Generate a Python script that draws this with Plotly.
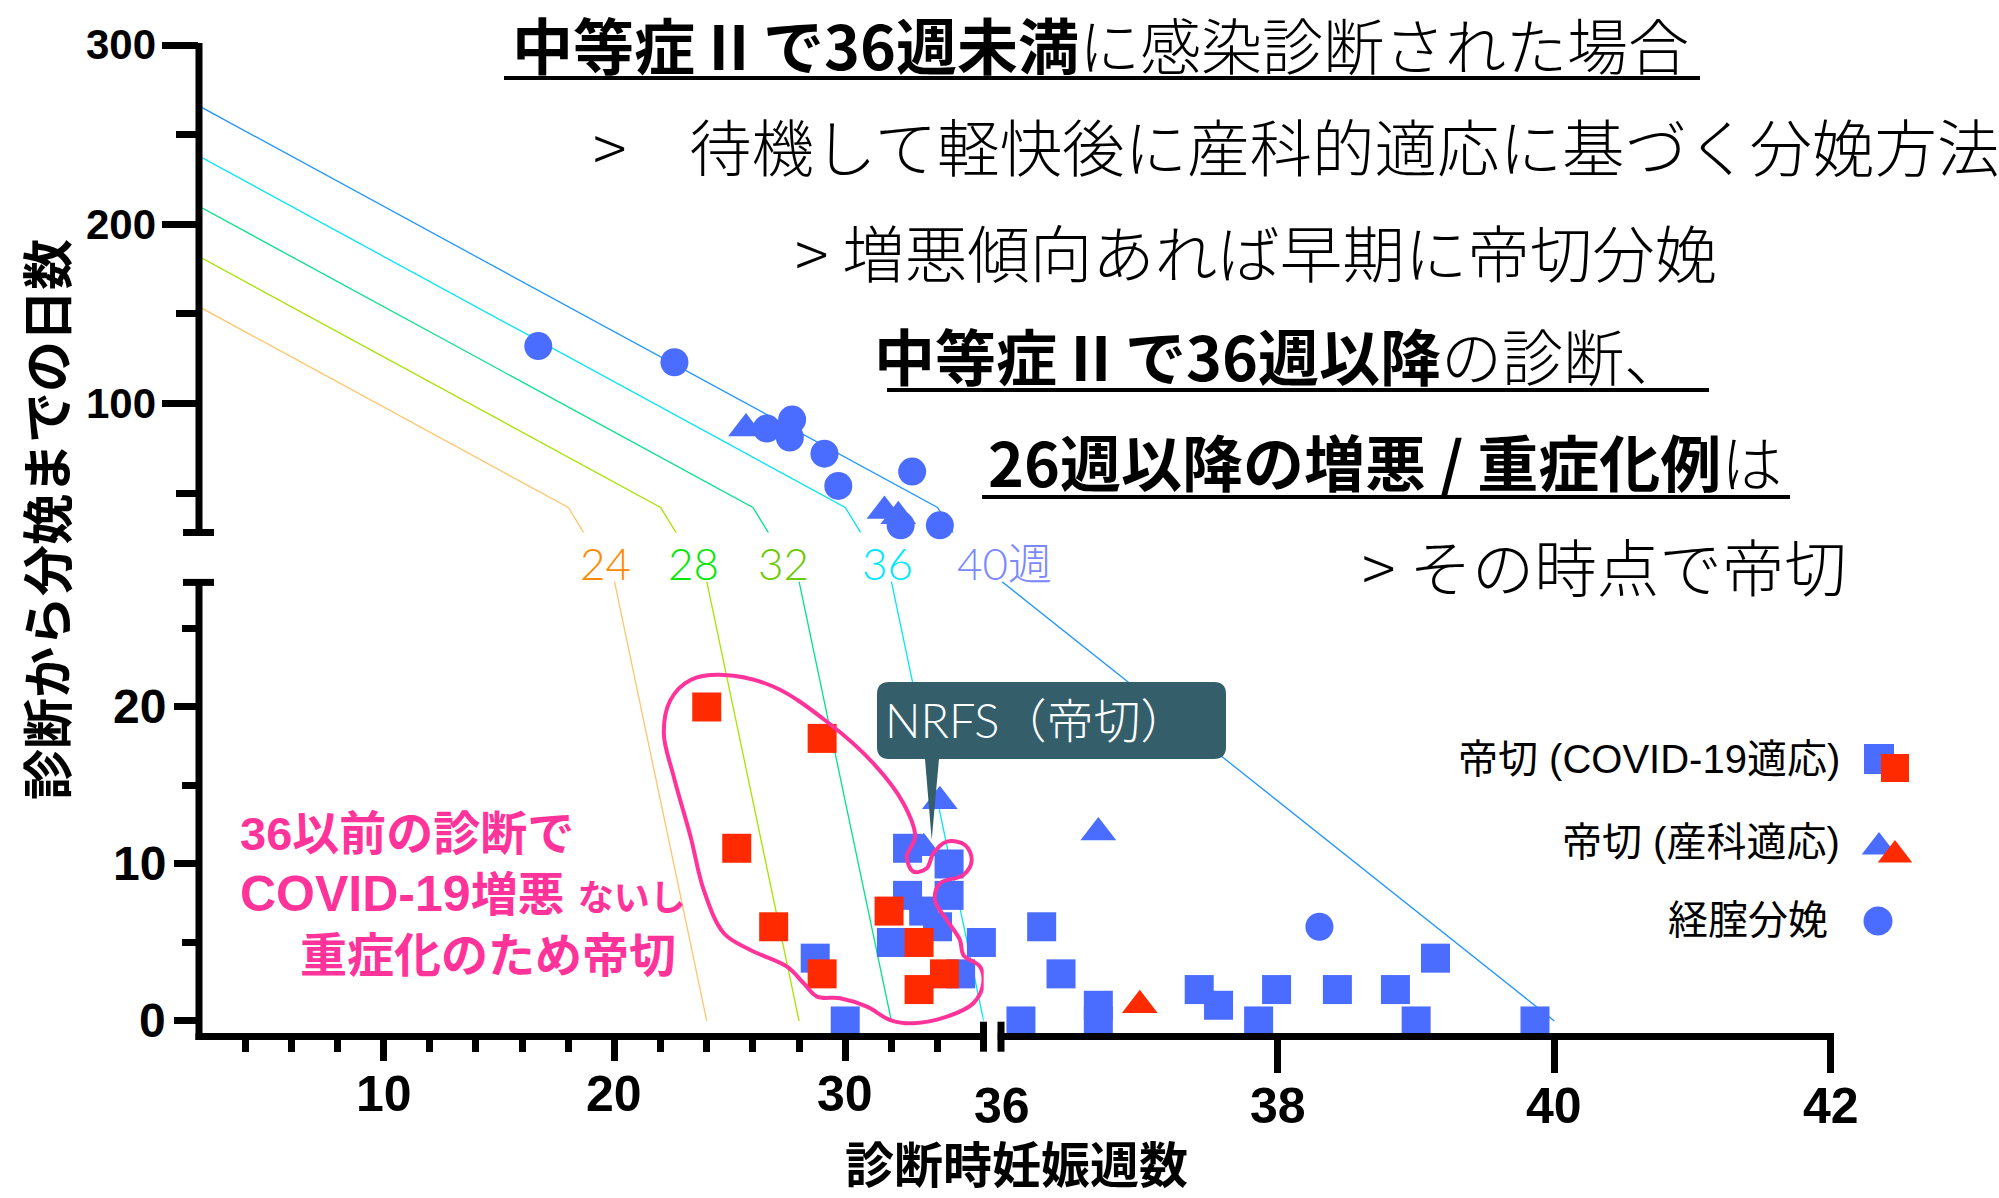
import plotly.graph_objects as go

FIG_W, FIG_H = 1999, 1198


def PX(v):
    return v / FIG_W


def PY(v):
    return 1 - v / FIG_H


# ---------------- data ----------------
guide_labels = ["24", "28", "32", "36", "40週"]
guide_line_colors = ["#FFC56A", "#A6E400", "#00E28A", "#00E6F6", "#2196FF"]
guide_label_colors = ["#FF8A00", "#00EA00", "#6ACB00", "#00E8FF", "#7C88FF"]
guide_upper_x = [[2, 18, 20], [2, 22, 24], [2, 26, 28], [2, 30, 32], [2, 34, 36]]
guide_upper_y = [[154, 42, 0], [182, 42, 0], [210, 42, 0], [238, 42, 0], [266, 42, 0]]
guide_lower_x = [[20, 24], [24, 28], [28, 32], [32, 36], [36, 40]]
guide_lower_y = [[28, 0], [28, 0], [28, 0], [28, 0], [28, 0]]

# vaginal delivery (circle, blue)
vag_x = [16.7, 22.6, 26.6, 27.7, 27.6, 29.1, 29.7, 32.9, 32.4, 34.1, 38.3]
vag_y = [132, 123, 86, 91, 81, 72, 54, 62, 32, 32, 6]
# CS, obstetric indication (triangle)
obs_blue_x = [25.7, 31.7, 32.3, 33.4, 34.1, 36.7]
obs_blue_y = [86, 40, 37, 11, 14, 12]
obs_red_x = [37.0]
obs_red_y = [1]
# CS, COVID-19 indication (square)
cov_blue_x = [28.7, 30.0, 32.7, 34.5, 34.5, 32.7, 33.4, 34.0, 32.0, 35.9, 35.0,
              36.14, 36.29, 36.43, 36.7, 36.7, 37.43, 37.57, 37.86, 37.99, 38.43,
              38.85, 39.0, 39.14, 39.86]
cov_blue_y = [4, 0, 11, 10, 8, 8, 7, 6, 5, 5, 3,
              0, 6, 3, 1, 0, 2, 1, 0, 2, 2,
              2, 0, 4, 0]
cov_red_x = [24.0, 29.0, 25.3, 26.9, 29.0, 31.9, 33.2, 34.3, 33.2]
cov_red_y = [20, 18, 11, 6, 3, 7, 5, 3, 2]

# outline drawn around the early-diagnosis CS cases (weeks, days)
loop_x = [24.74, 26.90, 29.21, 31.22, 32.52, 33.03, 32.67, 32.95, 33.53, 33.82,
          34.40, 35.19, 35.48, 35.12, 34.11, 33.89, 34.40, 34.97, 35.12, 35.84,
          35.98, 35.55, 34.40, 32.95, 31.95, 30.94, 29.78, 28.78, 28.20, 27.48,
          25.89, 24.74, 23.87, 23.30, 22.57, 22.14, 22.43, 23.30, 24.74]
loop_y = [22.04, 21.29, 19.06, 16.41, 13.87, 11.74, 10.46, 9.51, 9.73, 10.68,
          11.42, 11.21, 10.25, 9.30, 8.77, 7.71, 6.43, 5.16, 4.20, 3.46,
          2.40, 1.13, 0.27, -0.15, 0.06, 0.91, 1.45, 1.55, 2.40, 3.46,
          4.52, 5.59, 8.34, 11.74, 15.56, 18.32, 20.45, 21.72, 22.04]

x_left_ticks = [10, 20, 30]
x_left_minor = [4, 6, 8, 12, 14, 16, 18, 22, 24, 26, 28, 32, 34]
x_right_ticks = [38, 40, 42]
x_right_labels = [36, 38, 40, 42]
y_low_ticks = [0, 10, 20]
y_low_minor = [5, 15, 25]
y_up_ticks = [100, 200, 300]
y_up_minor = [50, 150, 250]

legend_texts = ["帝切 (COVID-19適応)", "帝切 (産科適応)", "経腟分娩"]

BLUE = "#4A6CFF"
RED = "#FF2A00"
PINK = "#FF3399"
BOX = "#355E6B"
BREAK = 28  # y value at the axis break
XBREAK = 36

fig = go.Figure()


def add_guides():
    for i in range(len(guide_labels)):
        fig.add_trace(go.Scatter(x=guide_upper_x[i], y=guide_upper_y[i], xaxis="x", yaxis="y2",
                                 mode="lines", line=dict(color=guide_line_colors[i], width=1.3),
                                 hoverinfo="skip"))
        lx = guide_lower_x[i]
        xa = "x2" if min(lx) >= XBREAK else "x"
        fig.add_trace(go.Scatter(x=lx, y=guide_lower_y[i], xaxis=xa, yaxis="y",
                                 mode="lines", line=dict(color=guide_line_colors[i], width=1.3),
                                 hoverinfo="skip"))


def add_points(xs, ys, symbol, color, size):
    groups = [
        ("x", "y2", lambda x, y: y >= BREAK),
        ("x", "y", lambda x, y: y < BREAK and x < XBREAK),
        ("x2", "y", lambda x, y: y < BREAK and x >= XBREAK),
    ]
    for xa, ya, cond in groups:
        gx = [x for x, y in zip(xs, ys) if cond(x, y)]
        gy = [y for x, y in zip(xs, ys) if cond(x, y)]
        if gx:
            fig.add_trace(go.Scatter(x=gx, y=gy, xaxis=xa, yaxis=ya, mode="markers",
                                     cliponaxis=False,
                                     marker=dict(symbol=symbol, color=color, size=size,
                                                 line=dict(width=0))))


add_guides()
add_points(vag_x, vag_y, "circle", BLUE, 28)
add_points(obs_blue_x, obs_blue_y, "triangle-up", BLUE, 31)
add_points(cov_blue_x, cov_blue_y, "square", BLUE, 29)
add_points(cov_red_x, cov_red_y, "square", RED, 29)
add_points(obs_red_x, obs_red_y, "triangle-up", RED, 31)

fig.add_trace(go.Scatter(x=loop_x, y=loop_y, xaxis="x", yaxis="y", mode="lines",
                         line=dict(color=PINK, width=4, shape="spline", smoothing=1.0),
                         hoverinfo="skip"))

# legend glyphs on a pixel overlay
leg_rows = [759, 842, 920]
leg_gx = 1879
fig.add_trace(go.Scatter(x=[leg_gx], y=[leg_rows[0]], xaxis="x3", yaxis="y3", mode="markers",
                         marker=dict(symbol="square", color=BLUE, size=30), cliponaxis=False))
fig.add_trace(go.Scatter(x=[leg_gx + 16], y=[leg_rows[0] + 9], xaxis="x3", yaxis="y3", mode="markers",
                         marker=dict(symbol="square", color=RED, size=28), cliponaxis=False))
fig.add_trace(go.Scatter(x=[leg_gx], y=[leg_rows[1] + 5], xaxis="x3", yaxis="y3", mode="markers",
                         marker=dict(symbol="triangle-up", color=BLUE, size=30), cliponaxis=False))
fig.add_trace(go.Scatter(x=[leg_gx + 16], y=[leg_rows[1] + 13], xaxis="x3", yaxis="y3", mode="markers",
                         marker=dict(symbol="triangle-up", color=RED, size=30), cliponaxis=False))
fig.add_trace(go.Scatter(x=[leg_gx - 1], y=[leg_rows[2] + 1], xaxis="x3", yaxis="y3", mode="markers",
                         marker=dict(symbol="circle", color=BLUE, size=29), cliponaxis=False))

TICKFONT = "Liberation Sans, Arial, sans-serif"
JP = "Noto Sans CJK JP, sans-serif"
LATIN_JP = "Liberation Sans, Noto Sans CJK JP, sans-serif"

# axis geometry (pixels)
X_L0, X_L1 = 199.0, 983.7
X_R0, X_R1 = 1001.6, 1830.7
Y_LOW_BOT, Y_LOW_TOP = 1036.5, 581.4
Y_UP_BOT, Y_UP_TOP = 532.5, 45.0
AX_W = 7

common_ax = dict(showline=False, showgrid=False, zeroline=False, automargin=False,
                 showticklabels=False, ticks="outside", tickwidth=AX_W, tickcolor="black",
                 tickmode="array", fixedrange=True)

fig.update_layout(
    template="none",
    width=FIG_W, height=FIG_H, autosize=False,
    margin=dict(l=0, r=0, t=0, b=0, pad=0),
    paper_bgcolor="white", plot_bgcolor="rgba(0,0,0,0)",
    showlegend=False,
    xaxis=dict(domain=[PX(X_L0), PX(X_L1)], range=[2, 36], anchor="y",
               tickvals=x_left_ticks, ticklen=23,
               minor=dict(tickmode="array", tickvals=x_left_minor, ticks="outside",
                          ticklen=14, tickwidth=AX_W, tickcolor="black", showgrid=False),
               **common_ax),
    xaxis2=dict(domain=[PX(X_R0), PX(X_R1)], range=[36, 42], anchor="y",
                tickvals=x_right_ticks, ticklen=35, **common_ax),
    yaxis=dict(domain=[PY(Y_LOW_BOT), PY(Y_LOW_TOP)], range=[-0.99, 28], anchor="x",
               tickvals=y_low_ticks, ticklen=24,
               minor=dict(tickmode="array", tickvals=y_low_minor, ticks="outside",
                          ticklen=16, tickwidth=AX_W, tickcolor="black", showgrid=False),
               **common_ax),
    yaxis2=dict(domain=[PY(Y_UP_BOT), PY(Y_UP_TOP)], range=[28, 300], anchor="x",
                tickvals=y_up_ticks, ticklen=36,
                minor=dict(tickmode="array", tickvals=y_up_minor, ticks="outside",
                           ticklen=22, tickwidth=AX_W, tickcolor="black", showgrid=False),
                **common_ax),
    xaxis3=dict(domain=[0, 1], range=[0, FIG_W], anchor="y3", visible=False, fixedrange=True,
                automargin=False),
    yaxis3=dict(domain=[0, 1], range=[FIG_H, 0], anchor="x3", visible=False, fixedrange=True,
                automargin=False),
)

shapes = []


def hline(x0, x1, y, w=AX_W, color="black"):
    shapes.append(dict(type="line", xref="paper", yref="paper", x0=PX(x0), x1=PX(x1),
                       y0=PY(y), y1=PY(y), line=dict(color=color, width=w), layer="above"))


def vline(x, y0, y1, w=AX_W, color="black"):
    shapes.append(dict(type="line", xref="paper", yref="paper", x0=PX(x), x1=PX(x),
                       y0=PY(y0), y1=PY(y1), line=dict(color=color, width=w), layer="above"))


# broken axes
vline(X_L0, Y_UP_TOP - 2, Y_UP_BOT)
hline(183, 214, Y_UP_BOT)
vline(X_L0, Y_LOW_TOP, Y_LOW_BOT + 3.5)
hline(183, 214, Y_LOW_TOP + 1)
hline(X_L0 - 3.5, 987, Y_LOW_BOT)
vline(983.5, 1021.7, 1051.7)
hline(997.7, 1834, Y_LOW_BOT)
vline(1001, 1021.7, 1051.7)

# underlines of headings
hline(504, 1700, 78, w=4)
hline(887, 1709, 390, w=4)
hline(982, 1790, 497, w=4)

# NRFS callout box with tail
bx0, by0, bx1, by1, r = 877, 682, 1226, 759, 12
path = (f"M{PX(bx0 + r)},{PY(by0)} H{PX(bx1 - r)} Q{PX(bx1)},{PY(by0)} {PX(bx1)},{PY(by0 + r)} "
        f"V{PY(by1 - r)} Q{PX(bx1)},{PY(by1)} {PX(bx1 - r)},{PY(by1)} "
        f"H{PX(939)} L{PX(931.7)},{PY(840)} L{PX(925)},{PY(by1)} "
        f"H{PX(bx0 + r)} Q{PX(bx0)},{PY(by1)} {PX(bx0)},{PY(by1 - r)} "
        f"V{PY(by0 + r)} Q{PX(bx0)},{PY(by0)} {PX(bx0 + r)},{PY(by0)} Z")
shapes.append(dict(type="path", xref="paper", yref="paper", path=path,
                   fillcolor=BOX, line=dict(width=0), layer="above"))

fig.update_layout(shapes=shapes)

ann = []


def text(x, y, s, size, color="black", family=JP, weight="normal", xanchor="center",
         yanchor="middle", angle=0, xref="paper", yref="paper", align="center"):
    ann.append(dict(x=PX(x) if xref == "paper" else x,
                    y=PY(y) if yref == "paper" else y,
                    xref=xref, yref=yref, text=s, align=align, borderpad=0,
                    showarrow=False, xanchor=xanchor, yanchor=yanchor, textangle=angle,
                    font=dict(family=family, size=size, color=color, weight=weight)))


# tick labels
for v in x_left_ticks:
    text(v, 1094, str(v), 50, family=TICKFONT, weight="bold", xref="x")
for v in x_right_labels:
    text(v, 1106, str(v), 50, family=TICKFONT, weight="bold", xref="x2")
for v in y_low_ticks:
    text(167, v, str(v), 48, family=TICKFONT, weight="bold", xanchor="right", yref="y")
for v in y_up_ticks:
    text(157, v, str(v), 42, family=TICKFONT, weight="bold", xanchor="right", yref="y2")

# week labels of guide lines
label_px = [605, 693, 783, 887, 1004]
for i, lab in enumerate(guide_labels):
    text(label_px[i], 563, lab, 44, color=guide_label_colors[i], family="Lato, " + JP, weight=300)

# headings
text(1100, 44, "<b>中等症 II で36週未満</b>に感染診断された場合", 61, weight=300)
text(1296, 145, "&gt;　待機して軽快後に産科的適応に基づく分娩方法", 62.5, weight=300)
text(1256, 250, "&gt; 増悪傾向あれば早期に帝切分娩", 62.5, weight=300)
text(1279, 355, "<b>中等症 II で36週以降</b>の診断、", 61, weight=300)
text(1385, 460, "<b>26週以降の増悪 / 重症化例</b>は", 61, weight=300)
text(1604, 564, "&gt; その時点で帝切", 62.5, weight=300)

# pink note (one block of three lines)
text(239, 894,
     "<b>36以前の診断で<br>"
     "<span style='font-size:50px'>COVID-19</span>増悪 <span style='font-size:36px'>ないし</span><br>"
     "　 重症化のため帝切</b>",
     47, color=PINK, xanchor="left", family=LATIN_JP, align="left")

# NRFS
text(1036, 720, "NRFS（帝切）", 47, color="white", family="Lato, " + JP, weight=300)

# legend texts
text(1841, leg_rows[0], legend_texts[0], 40, xanchor="right", family=LATIN_JP)
text(1841, leg_rows[1], legend_texts[1], 40, xanchor="right", family=LATIN_JP)
text(1829, leg_rows[2], legend_texts[2], 40, xanchor="right", family=LATIN_JP)

# axis titles
text(45, 520, "<b>診断から分娩までの日数</b>", 51, angle=-90)
text(1016, 1161, "<b>診断時妊娠週数</b>", 49)

fig.update_layout(annotations=ann)

fig.write_html("out.html", config={"displayModeBar": False},
               post_script="document.body.style.margin='0';document.body.style.overflow='hidden';")
